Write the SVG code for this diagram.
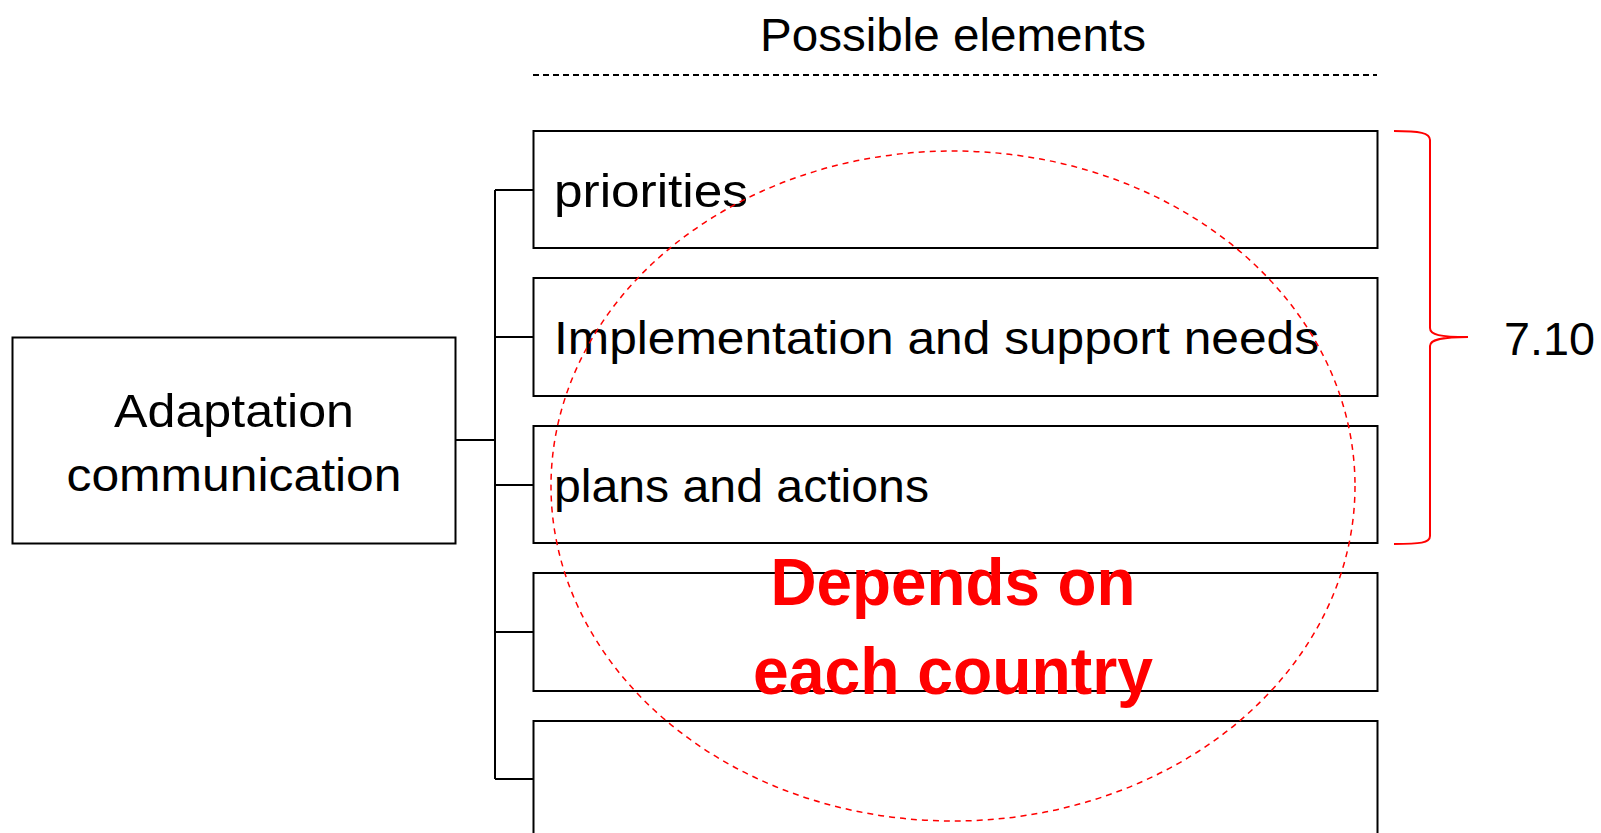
<svg xmlns="http://www.w3.org/2000/svg" width="1601" height="833" viewBox="0 0 1601 833">
<style>
.box{fill:#fff;stroke:#000;stroke-width:2}
.t{font-family:"Liberation Sans",Arial,sans-serif;font-size:46px;fill:#000}
.conn{fill:none;stroke:#000;stroke-width:2}
.red{font-family:"Liberation Sans",Arial,sans-serif;font-size:66px;font-weight:bold;fill:#ff0000}
</style>
<rect width="1601" height="833" fill="#fff"/>
<text class="t" x="953" y="51" text-anchor="middle" textLength="386" lengthAdjust="spacingAndGlyphs">Possible elements</text>
<line x1="533" y1="75" x2="1377" y2="75" stroke="#000" stroke-width="2" stroke-dasharray="6,4"/>
<g id="conn" class="conn">
<polyline points="456,440 495,440"/>
<line x1="495" y1="190" x2="495" y2="779"/>
<line x1="495" y1="190" x2="533" y2="190"/>
<line x1="495" y1="337" x2="533" y2="337"/>
<line x1="495" y1="485" x2="533" y2="485"/>
<line x1="495" y1="632" x2="533" y2="632"/>
<line x1="495" y1="779" x2="533" y2="779"/>
</g>
<g id="root"><rect class="box" x="12.5" y="337.5" width="443" height="206"/>
<text class="t" x="234" y="427" text-anchor="middle" textLength="240" lengthAdjust="spacingAndGlyphs">Adaptation</text>
<text class="t" x="234" y="491" text-anchor="middle" textLength="335" lengthAdjust="spacingAndGlyphs">communication</text></g>
<g id="n1"><rect class="box" x="533.5" y="131" width="844" height="117"/>
<text class="t" x="554" y="207" textLength="194" lengthAdjust="spacingAndGlyphs">priorities</text></g>
<g id="n2"><rect class="box" x="533.5" y="278" width="844" height="118"/>
<text class="t" x="554" y="354" textLength="765" lengthAdjust="spacingAndGlyphs">Implementation and support needs</text></g>
<g id="n3"><rect class="box" x="533.5" y="426" width="844" height="117"/>
<text class="t" x="554" y="502" textLength="375" lengthAdjust="spacingAndGlyphs">plans and actions</text></g>
<g id="n4"><rect class="box" x="533.5" y="573" width="844" height="118"/></g>
<g id="n5"><rect class="box" x="533.5" y="721" width="844" height="130"/></g>
<g id="brace"><path d="M1394,131 C1420,131 1430,133 1430,140 L1430,328 C1430,335 1440,337 1468,337 C1440,337 1430,340 1430,346 L1430,536 C1430,543 1420,544 1394,544" fill="none" stroke="#ff0000" stroke-width="2"/>
<text class="t" x="1504" y="355" textLength="91" lengthAdjust="spacingAndGlyphs">7.10</text></g>
<g id="ellipse"><ellipse cx="953" cy="486" rx="402" ry="335" fill="none" stroke="#ff0000" stroke-width="1.5" stroke-dasharray="6,5"/>
<text class="red" x="953" y="605" text-anchor="middle" textLength="365" lengthAdjust="spacingAndGlyphs">Depends on</text>
<text class="red" x="953" y="694" text-anchor="middle" textLength="400" lengthAdjust="spacingAndGlyphs">each country</text></g>
</svg>
